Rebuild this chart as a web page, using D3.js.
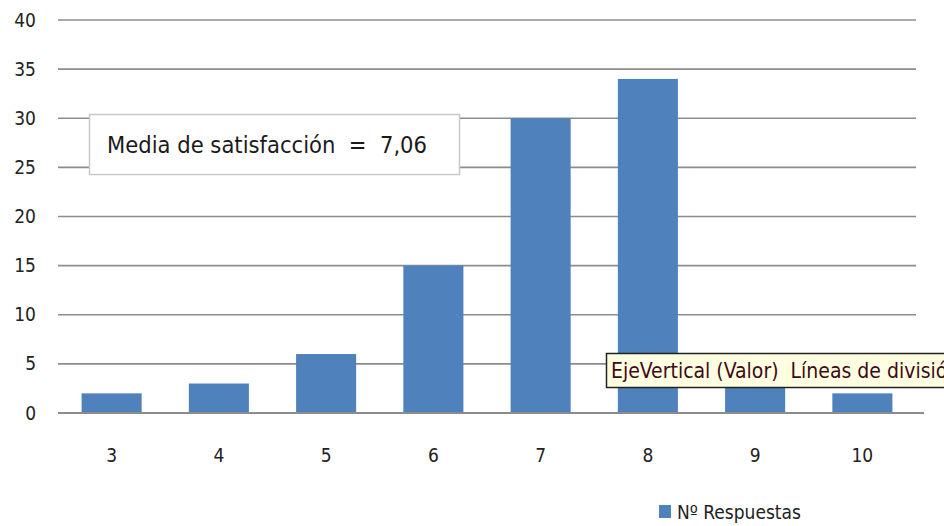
<!DOCTYPE html>
<html>
<head>
<meta charset="utf-8">
<script src="https://cdn.jsdelivr.net/npm/d3@7"></script>
<style>
  html, body { margin: 0; padding: 0; background: #fff; }
  svg { display: block; }
  text { white-space: pre; }
</style>
</head>
<body>
<svg id="chart" width="944" height="526"></svg>
<script>
// data
const categories = ["3", "4", "5", "6", "7", "8", "9", "10"];
const respuestas = [2, 3, 6, 15, 30, 34, 5, 2];
const yTicks = [0, 5, 10, 15, 20, 25, 30, 35, 40];
const seriesName = "Nº Respuestas";
const noteText = "Media de satisfacción  =  7,06";
const tipText = "EjeVertical (Valor)  Líneas de división";

const plotL = 58, plotR = 916, plotT = 20, plotB = 413
  , font = "'DejaVu Sans Condensed', 'Liberation Sans Narrow', sans-serif";

const svg = d3.select("#chart");

const x = d3.scaleBand().domain(categories).range([plotL, plotR]).paddingInner(0.44).paddingOuter(0.22);
const y = d3.scaleLinear().domain([0, 40]).range([plotB, plotT]);

// gridlines
svg.append("g").selectAll("line").data(yTicks.filter(t => t > 0)).enter().append("line")
  .attr("x1", plotL).attr("x2", plotR)
  .attr("y1", d => y(d)).attr("y2", d => y(d))
  .attr("stroke", "#8c8c8c").attr("stroke-width", 1.6);

// y axis labels
const yAxis = svg.append("g").attr("transform", `translate(${plotL},0)`)
  .call(d3.axisLeft(y).tickValues(yTicks).tickSize(0).tickPadding(22));
yAxis.select(".domain").remove();
yAxis.selectAll("text").attr("font-family", font).attr("font-size", 19).attr("fill", "#222");

// bars
svg.append("g").selectAll("rect").data(respuestas).enter().append("rect")
  .attr("x", (d, i) => x(categories[i]))
  .attr("y", d => y(d))
  .attr("width", x.bandwidth())
  .attr("height", d => y(0) - y(d))
  .attr("fill", "#4f81bd");

// baseline
svg.append("line").attr("x1", plotL).attr("x2", plotR + 8)
  .attr("y1", y(0)).attr("y2", y(0))
  .attr("stroke", "#8c8c8c").attr("stroke-width", 2);

// x axis labels
const xAxis = svg.append("g").attr("transform", `translate(0,${plotB})`)
  .call(d3.axisBottom(x).tickSize(0).tickPadding(36));
xAxis.select(".domain").remove();
xAxis.selectAll("text").attr("font-family", font).attr("font-size", 19).attr("fill", "#222");

// legend
svg.append("rect").attr("x", 659).attr("y", 505).attr("width", 12).attr("height", 13).attr("fill", "#4f81bd");
svg.append("text").attr("x", 677).attr("y", 519)
  .attr("font-family", font).attr("font-size", 19).attr("fill", "#222").text(seriesName);

// annotation box
svg.append("rect").attr("x", 89.5).attr("y", 114.5).attr("width", 370).attr("height", 60)
  .attr("fill", "#fff").attr("stroke", "#c8c8c8").attr("stroke-width", 1.5);
svg.append("text").attr("x", 107).attr("y", 153)
  .attr("font-family", font).attr("font-size", 23.5).attr("fill", "#1a1a1a").text(noteText);

// tooltip
const tip = svg.append("g");
tip.append("rect").attr("x", 606.5).attr("y", 353.5).attr("width", 360).attr("height", 34)
  .attr("fill", "#ffffe1").attr("stroke", "#222").attr("stroke-width", 1.5);
tip.append("text").attr("x", 611).attr("y", 378)
  .attr("font-family", font).attr("font-size", 21).attr("fill", "#3c0a18").text(tipText);
</script>
</body>
</html>
